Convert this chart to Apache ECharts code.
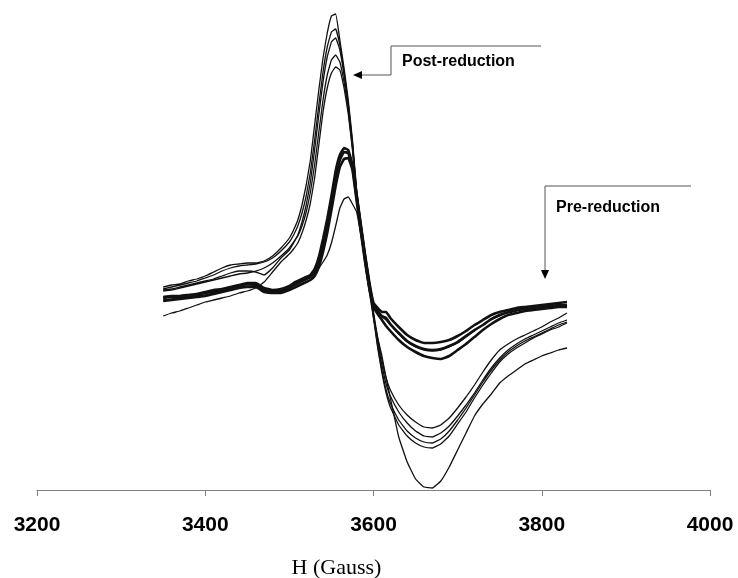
<!DOCTYPE html>
<html>
<head>
<meta charset="utf-8">
<script src="https://cdn.jsdelivr.net/npm/echarts/dist/echarts.min.js"></script>
<style>
html,body{margin:0;padding:0;background:#fff;overflow:hidden;width:100%;height:100%;}
#chart{position:fixed;left:0;top:0;width:100vw;height:100vh;}
</style>
</head>
<body>
<div id="chart"></div>
<script>
// Magnetic field H (Gauss)
const fieldH = [3350,3360,3370,3380,3390,3400,3410,3420,3430,3440,3450,3460,3470,3480,3490,
  3500,3505,3510,3515,3520,3525,3530,3535,3540,3545,3550,3555,3560,3565,3570,3575,3580,3585,3590,3595,3600,3605,3610,3615,3620,
  3630,3640,3650,3660,3670,3680,3690,3700,3710,3720,3730,3740,3750,3760,3770,3780,3790,3800,3810,3820,3830];

const xTicks = [3200, 3400, 3600, 3800, 4000];

// Post-reduction spectra (arbitrary units)
const post1 = [13,15,16,19,21,24,28,32,35,36,37,37,39,44,52,
  62,70,80,95,115,140,175,210,242,267,284,286,260,232,200,160,110,78,48,20,-12,-38,-60,-78,-90,
  -105,-115,-122,-127,-128,-125,-118,-108,-97,-85,-72,-60,-50,-44,-39,-35,-31,-27,-22,-18,-13];
const post2 = [11,13,15,17,19,22,25,29,32,34,35,36,38,42,49,
  58,65,74,87,104,128,160,195,228,253,268,271,255,228,196,157,108,76,46,18,-14,-42,-65,-84,-96,
  -112,-123,-131,-136,-137,-133,-126,-116,-105,-93,-80,-68,-58,-50,-44,-39,-35,-31,-27,-23,-20];
const post3 = [10,11,13,15,17,19,21,24,27,29,29,28,25,32,42,
  50,57,65,78,95,118,150,185,218,243,258,262,250,225,194,155,106,74,44,16,-16,-46,-70,-90,-103,
  -120,-131,-138,-142,-143,-139,-131,-120,-108,-95,-82,-70,-60,-52,-46,-41,-37,-33,-29,-25,-22];
const post4 = [9,10,12,14,16,18,20,22,24,26,27,29,32,37,44,
  52,58,64,74,88,108,135,168,200,225,240,245,238,218,190,152,104,72,42,14,-18,-48,-73,-93,-107,
  -125,-136,-143,-147,-148,-144,-136,-124,-112,-98,-85,-73,-62,-54,-48,-43,-38,-34,-30,-27,-23];
const post5 = [-16,-13,-11,-8,-5,-2,0,2,4,7,9,12,18,28,38,
  46,51,57,67,80,97,122,155,188,212,227,233,230,212,186,150,102,68,35,8,-18,-38,-56,-78,-98,
  -137,-162,-179,-187,-188,-181,-167,-150,-133,-116,-104,-94,-83,-76,-70,-64,-60,-56,-53,-50,-48];

// Pre-reduction spectra (arbitrary units)
const pre1 = [3,4,4,5,6,8,10,11,13,15,17,17,12,10,11,
  14,17,19,21,23,25,31,43,61,81,104,129,145,152,150,135,105,75,45,18,-3,-8,-12,-12,-18,
  -27,-35,-40,-43,-43,-42,-40,-36,-31,-25,-20,-15,-12,-10,-8,-7,-6,-5,-4,-3,-2];
const pre2 = [2,3,3,4,5,7,8,10,12,14,16,15,10,9,9,
  12,15,17,19,21,23,28,38,54,74,97,122,140,148,147,133,102,72,42,15,-5,-11,-16,-18,-24,
  -33,-41,-46,-49,-50,-49,-46,-42,-36,-30,-25,-19,-15,-12,-10,-9,-8,-7,-6,-5,-5];
const pre3 = [-1,0,1,2,3,4,6,8,10,12,13,13,8,7,7,
  10,12,14,16,18,20,24,33,48,67,90,114,133,141,142,130,99,68,38,12,-7,-14,-20,-26,-31,
  -40,-47,-52,-56,-58,-59,-56,-50,-44,-37,-30,-24,-19,-15,-13,-11,-10,-9,-8,-7,-7];
const pre4 = [0,1,2,3,4,5,7,9,11,13,14,14,9,8,9,
  11,14,16,19,21,23,27,32,38,45,57,74,92,101,103,96,88,65,38,10,-7,-12,-17,-20,-25,
  -34,-42,-47,-50,-51,-50,-47,-43,-37,-31,-25,-20,-16,-13,-11,-9,-8,-7,-6,-5,-5];

const postSets = [post1, post2, post3, post4, post5];
const preSets = [pre1, pre2, pre3];
const preThin = [pre4];

function toData(vals){ return fieldH.map((h,i)=>[h, vals[i]]); }
function mk(vals, w){
  return {type:'line', data: toData(vals), showSymbol:false, symbol:'none',
    lineStyle:{color:'#111', width:w}, smooth:0.1, silent:true, z:3};
}
const series = [];
postSets.forEach(v=>series.push(mk(v,1.3)));
preThin.forEach(v=>series.push(mk(v,1.3)));
preSets.forEach(v=>series.push(mk(v,2.6)));

const chart = echarts.init(document.getElementById('chart'), null, {renderer:'canvas'});
chart.setOption({
  animation:false,
  backgroundColor:'#fff',
  grid:{left:37, right:28, top:0, bottom:88, containLabel:false, outerBoundsMode:'none'},
  xAxis:{
    type:'value', min:xTicks[0], max:xTicks[xTicks.length-1], interval:200,
    splitLine:{show:false},
    axisLine:{show:true, onZero:false, lineStyle:{color:'#808080', width:1}},
    axisTick:{show:true, length:6, lineStyle:{color:'#808080'}},
    axisLabel:{color:'#000', fontSize:21, fontWeight:'bold', fontFamily:'"Liberation Sans", Arial, sans-serif', margin:25,
      formatter: v => String(v)},
    name:'H (Gauss)', nameLocation:'middle', nameGap:67,
    nameTextStyle:{color:'#000', fontSize:22, fontFamily:'"Liberation Serif", "Times New Roman", serif', padding:[0,74,0,0]}
  },
  yAxis:{type:'value', min:-190, max:300, show:false, splitLine:{show:false}},
  series: series,
  graphic:[
    {type:'polyline', shape:{points:[[541,46],[391,46],[391,75],[360,75]]}, style:{stroke:'#555', lineWidth:1, fill:null}, z:10},
    {type:'polygon', shape:{points:[[353,75],[362,71],[362,79]]}, style:{fill:'#000'}, z:10},
    {type:'text', style:{x:402, y:62, text:'Post-reduction', font:'bold 16px "Liberation Sans", Arial, sans-serif', fill:'#000', verticalAlign:'middle'}, z:10},
    {type:'polyline', shape:{points:[[691,186],[545,186],[545,271]]}, style:{stroke:'#555', lineWidth:1, fill:null}, z:10},
    {type:'polygon', shape:{points:[[545,279],[541,270],[549,270]]}, style:{fill:'#000'}, z:10},
    {type:'text', style:{x:556, y:208, text:'Pre-reduction', font:'bold 16px "Liberation Sans", Arial, sans-serif', fill:'#000', verticalAlign:'middle'}, z:10}
  ]
});
</script>
</body>
</html>
